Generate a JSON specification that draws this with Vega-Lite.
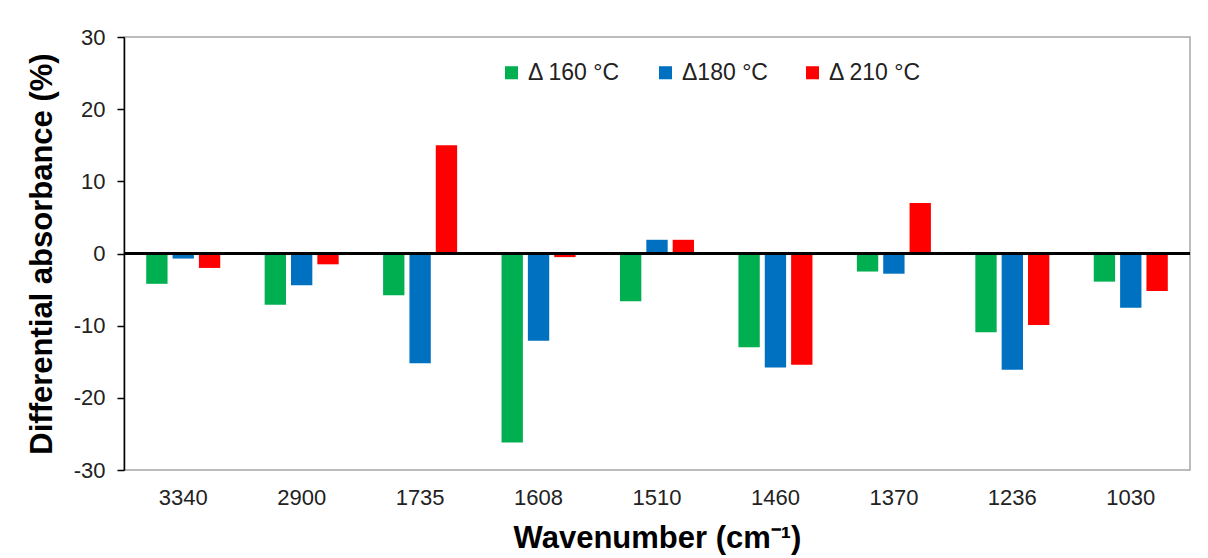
{
  "$schema": "https://vega.github.io/schema/vega-lite/v6.json",
  "width": 1066,
  "height": 433,
  "autosize": {"type": "none"},
  "padding": {"left": 124, "top": 37, "right": 18, "bottom": 88},
  "background": "white",
  "config": {
    "font": "Liberation Sans",
    "view": {"stroke": "#a6a6a6", "strokeWidth": 1.5}
  },
  "data": {
    "values": [
      {"wavenumber": "3340", "series": "Δ 160 °C", "value": -4.2},
      {"wavenumber": "3340", "series": "Δ180 °C", "value": -0.7},
      {"wavenumber": "3340", "series": "Δ 210 °C", "value": -2.0},
      {"wavenumber": "2900", "series": "Δ 160 °C", "value": -7.1},
      {"wavenumber": "2900", "series": "Δ180 °C", "value": -4.4},
      {"wavenumber": "2900", "series": "Δ 210 °C", "value": -1.5},
      {"wavenumber": "1735", "series": "Δ 160 °C", "value": -5.8},
      {"wavenumber": "1735", "series": "Δ180 °C", "value": -15.2},
      {"wavenumber": "1735", "series": "Δ 210 °C", "value": 15.0},
      {"wavenumber": "1608", "series": "Δ 160 °C", "value": -26.2},
      {"wavenumber": "1608", "series": "Δ180 °C", "value": -12.1},
      {"wavenumber": "1608", "series": "Δ 210 °C", "value": -0.5},
      {"wavenumber": "1510", "series": "Δ 160 °C", "value": -6.6},
      {"wavenumber": "1510", "series": "Δ180 °C", "value": 1.9},
      {"wavenumber": "1510", "series": "Δ 210 °C", "value": 1.9},
      {"wavenumber": "1460", "series": "Δ 160 °C", "value": -13.0},
      {"wavenumber": "1460", "series": "Δ180 °C", "value": -15.8},
      {"wavenumber": "1460", "series": "Δ 210 °C", "value": -15.4},
      {"wavenumber": "1370", "series": "Δ 160 °C", "value": -2.5},
      {"wavenumber": "1370", "series": "Δ180 °C", "value": -2.8},
      {"wavenumber": "1370", "series": "Δ 210 °C", "value": 7.0},
      {"wavenumber": "1236", "series": "Δ 160 °C", "value": -10.9},
      {"wavenumber": "1236", "series": "Δ180 °C", "value": -16.1},
      {"wavenumber": "1236", "series": "Δ 210 °C", "value": -9.9},
      {"wavenumber": "1030", "series": "Δ 160 °C", "value": -3.9},
      {"wavenumber": "1030", "series": "Δ180 °C", "value": -7.5},
      {"wavenumber": "1030", "series": "Δ 210 °C", "value": -5.2}
    ]
  },
  "layer": [
    {
      "mark": {"type": "bar"},
      "encoding": {
        "x": {
          "field": "wavenumber",
          "type": "nominal",
          "sort": ["3340", "2900", "1735", "1608", "1510", "1460", "1370", "1236", "1030"],
          "scale": {"paddingInner": 0.375, "paddingOuter": 0.1875},
          "axis": {
            "title": "Wavenumber (cm⁻¹)",
            "titleFontSize": 31,
            "titleFontWeight": "bold",
            "titleColor": "black",
            "titlePadding": 15,
            "labelAngle": 0,
            "labelFontSize": 22,
            "labelColor": "#222222",
            "labelPadding": 17,
            "ticks": false,
            "domain": false
          }
        },
        "xOffset": {
          "field": "series",
          "type": "nominal",
          "sort": ["Δ 160 °C", "Δ180 °C", "Δ 210 °C"],
          "scale": {"paddingInner": 0.19, "paddingOuter": 0}
        },
        "y": {
          "field": "value",
          "type": "quantitative",
          "scale": {"domain": [-30, 30], "nice": false},
          "axis": {
            "title": "Differential absorbance (%)",
            "titleFontSize": 31,
            "titleFontWeight": "bold",
            "titleColor": "black",
            "titlePadding": 15,
            "values": [-30, -20, -10, 0, 10, 20, 30],
            "labelExpr": "'' + datum.value",
            "grid": false,
            "domainColor": "black",
            "domainWidth": 1.5,
            "tickColor": "black",
            "tickSize": 7,
            "tickWidth": 1.5,
            "labelFontSize": 22,
            "labelColor": "#222222",
            "labelPadding": 12
          }
        },
        "color": {
          "field": "series",
          "type": "nominal",
          "scale": {
            "domain": ["Δ 160 °C", "Δ180 °C", "Δ 210 °C"],
            "range": ["#00B050", "#0070C0", "#FF0000"]
          },
          "legend": {
            "title": null,
            "orient": "none",
            "legendX": 376,
            "legendY": 24,
            "direction": "horizontal",
            "symbolType": "square",
            "symbolSize": 170,
            "symbolStrokeWidth": 0,
            "labelFontSize": 23,
            "labelColor": "#222222",
            "labelOffset": 5,
            "columnPadding": 33
          }
        }
      }
    },
    {
      "mark": {"type": "rule", "color": "black", "strokeWidth": 1.5},
      "encoding": {"y": {"datum": 0}}
    }
  ]
}
